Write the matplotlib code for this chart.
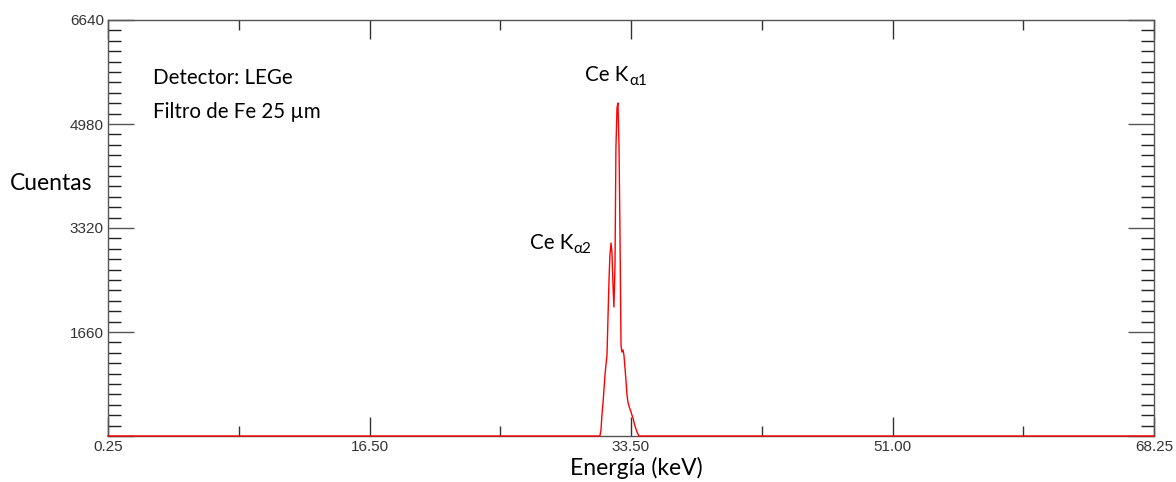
import numpy as np
import matplotlib
matplotlib.use('Agg')
import matplotlib.pyplot as plt
from matplotlib.ticker import FixedLocator, FixedFormatter

# espectro (solo la zona del pico, el resto es cero)
energia = [0.25,
           32.23, 32.30, 32.36, 32.43, 32.49, 32.56, 32.62, 32.69, 32.75, 32.82,
           32.88, 32.95, 33.01, 33.08, 33.14, 33.21, 33.27, 33.34, 33.40, 33.47,
           33.53, 33.60, 33.66, 33.73, 33.79, 33.86, 33.92, 33.99, 34.05, 34.12,
           34.18, 34.25, 34.31, 34.38, 34.44, 34.51, 34.57, 34.64, 34.70, 34.77,
           34.83, 68.25]
cuentas = [0,
           0, 96, 335, 527, 734, 974, 1133, 1293, 1851, 2490,
           2889, 3080, 2937, 2410, 2059, 2729, 4597, 5235, 5315, 4644,
           3320, 1452, 1341, 1373, 1293, 1085, 894, 654, 543, 479,
           431, 383, 335, 287, 223, 160, 112, 64, 32, 0,
           0, 0]

xtick_labels = ['0.25', '16.50', '33.50', '51.00', '68.25']
ytick_vals = [0, 1660, 3320, 4980, 6640]
ytick_labels = ['', '1660', '3320', '4980', '6640']

txt_font = ['Lato', 'DejaVu Sans']

fig = plt.figure(figsize=(11.76, 4.82), dpi=100)
ax = fig.add_axes([108/1176, 46/482, 1046/1176, 416/482])

ax.plot(energia, cuentas, color='#ff0000', lw=1.0, zorder=5, clip_on=False)
ax.set_xlim(0.25, 68.25)
ax.set_ylim(0, 6640)

for s in ax.spines.values():
    s.set_color('#555555')
    s.set_linewidth(1.0)

xmaj = np.linspace(0.25, 68.25, 5)
xmin = (xmaj[:-1] + xmaj[1:]) / 2
ax.xaxis.set_major_locator(FixedLocator(xmaj))
ax.xaxis.set_major_formatter(FixedFormatter(xtick_labels))
ax.xaxis.set_minor_locator(FixedLocator(xmin))
ax.yaxis.set_major_locator(FixedLocator(ytick_vals))
ax.yaxis.set_major_formatter(FixedFormatter(ytick_labels))
ax.yaxis.set_minor_locator(FixedLocator(np.arange(0, 6641, 166)))

ax.tick_params(axis='x', which='major', direction='in', length=14, width=1,
               top=True, bottom=True, color='#333333', labelsize=11,
               labelcolor='#333333', pad=3)
ax.tick_params(axis='x', which='minor', direction='in', length=7, width=1,
               top=True, bottom=True, color='#333333')
ax.tick_params(axis='y', which='major', direction='in', length=19, width=1,
               left=True, right=True, color='#555555', labelsize=11,
               labelcolor='#333333', pad=3)
ax.tick_params(axis='y', which='minor', direction='in', length=9.5, width=1,
               left=True, right=True, color='#222222')
for lab in ax.get_xticklabels() + ax.get_yticklabels():
    lab.set_family(['Liberation Sans', 'DejaVu Sans'])

fig.text(10/1176, 1 - 183/482, 'Cuentas', fontsize=16.5, family=txt_font,
         ha='left', va='center')
fig.text(636/1176, 1 - 468/482, 'Energía (keV)', fontsize=16.5, family=txt_font,
         ha='center', va='center')

ax.text(0.043, 0.861, 'Detector: LEGe', transform=ax.transAxes, fontsize=14.8,
        family=txt_font, va='center')
ax.text(0.043, 0.779, 'Filtro de Fe 25 µm', transform=ax.transAxes, fontsize=14.8,
        family=txt_font, va='center')

for xf, yf, sub in [(0.456, 0.868, 'α1'), (0.403, 0.464, 'α2')]:
    t = ax.text(xf, yf, 'Ce K', transform=ax.transAxes, fontsize=14.8,
                family=txt_font, va='center')
    ax.annotate(sub, xy=(1.0, 0.0), xycoords=t, xytext=(0.5, -2),
                textcoords='offset points', fontsize=11, family=txt_font,
                ha='left', va='bottom')

fig.savefig('out.png', dpi=100)
